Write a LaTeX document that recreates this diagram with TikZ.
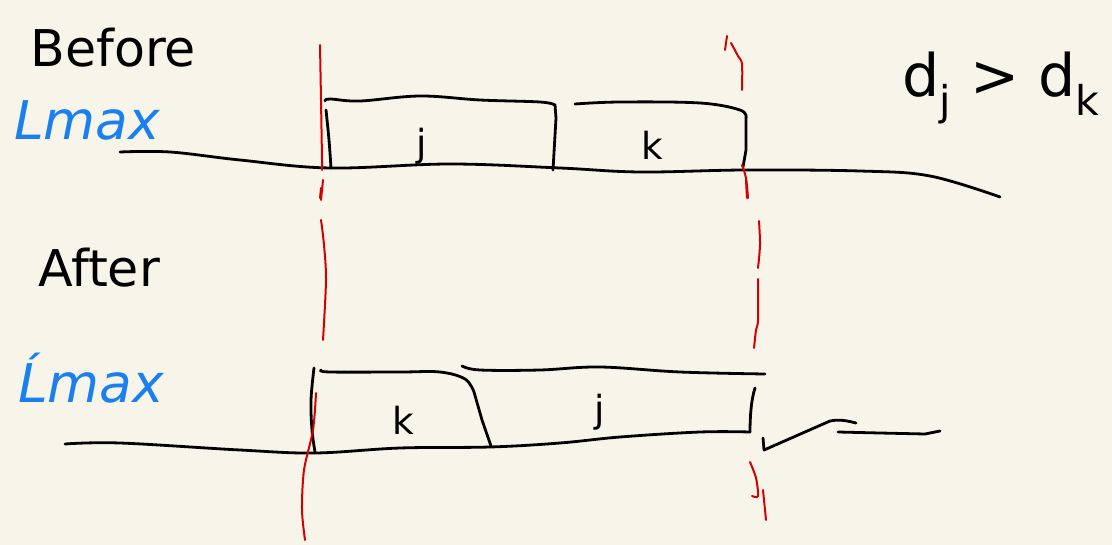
\documentclass[tikz,border=0pt]{standalone}
\usepackage{fontspec}
\setmainfont{DejaVu Sans}
\definecolor{paper}{HTML}{F7F5EA}
\definecolor{inkblue}{HTML}{1A80F0}
\definecolor{inkred}{HTML}{D40000}
\begin{document}
\begin{tikzpicture}[x=0.75pt,y=-0.75pt,
  ink/.style={line width=2.1pt,line cap=round,line join=round,black},
  redink/.style={line width=1.5pt,line cap=round,inkred},
  hand/.style={font=\fontsize{38}{40}\selectfont,inner sep=0pt},
  blueword/.style={hand,text=inkblue,font=\fontsize{40}{42}\selectfont\itshape},
  small/.style={font=\fontsize{28}{30}\selectfont,inner sep=0pt}]
\fill[paper] (0,0) rectangle (1112,545);
\useasboundingbox (0,0) rectangle (1112,545);

% labels
\node[hand,anchor=west] (before) at (30,48) {Before};
\node[blueword,anchor=west] (lmax) at (14,120) {Lmax};
\node[hand,anchor=west] (after) at (38,268) {After};
\node[blueword,anchor=west] (lmaxp) at (18,378) {Ĺmax};
\node[hand,anchor=west,font=\fontsize{44}{46}\selectfont] (cond) at (902,88) {d\textsubscript{j} > d\textsubscript{k}};

% ---------- Before ----------
\draw[ink] plot[smooth,tension=0.6] coordinates {(120,152) (170,152) (240,160) (330,168) (450,164) (560,168) (640,172) (745,170) (860,171) (930,176) (1000,197)};
% box j
\draw[ink] plot[smooth,tension=0.6] coordinates {(326,110) (329,140) (331,168)};
\draw[ink] plot[smooth,tension=0.6] coordinates {(325,101) (330,99) (360,101) (420,96) (480,100) (540,102) (555,105)} -- (556,118) -- (553,170);
\node[small] (jtop) at (422,146) {j};
% box k
\draw[ink] plot[smooth,tension=0.6] coordinates {(575,104) (620,102) (700,103) (740,110) (746,118)} -- (746,150) -- (743,167);
\node[small] (ktop) at (652,145) {k};

% ---------- After ----------
\draw[ink] plot[smooth,tension=0.6] coordinates {(65,444) (120,443) (240,450) (315,453) (400,448) (490,447) (560,443) (620,437) (700,432) (750,432)};
% box k
\draw[ink] plot[smooth,tension=0.6] coordinates {(314,368) (311,400) (312,430) (315,452)};
\draw[ink] plot[smooth,tension=0.6] coordinates {(321,370) (330,372) (400,372) (440,372) (465,379) (474,392)} -- (482,420) -- (491,446);
\node[small] (kbot) at (403,420) {k};
% box j
\draw[ink] plot[smooth,tension=0.6] coordinates {(462,366) (480,370) (540,370) (600,367) (680,372) (765,374)};
\draw[ink] (755,388) .. controls (751,400) and (750,418) .. (750,432);
\node[small] (jbot) at (600,412) {j};
% squiggle and tail
\draw[ink] (763,438) -- (764,450) -- (830,421) .. controls (840,419) and (848,421) .. (856,423);
\draw[ink] (838,432) -- (880,433) -- (925,434) -- (940,431);

% ---------- red guides ----------
\draw[redink] plot[smooth,tension=0.5] coordinates {(320,45) (321,100) (322,160) (322,170)};
\draw[redink] (321,188) -- (320,198);
\draw[redink] (323,180) -- (321,200);
\draw[redink] plot[smooth] coordinates {(321,220) (324,245) (326,280) (323,340)};
\draw[redink] plot[smooth] coordinates {(316,393) (313,430) (304,470) (302,510) (305,540)};

\draw[redink] (727,36) -- (725,50);
\draw[redink] plot[smooth] coordinates {(731,43) (738,56) (742,64) (742,90)};
\draw[redink] plot[smooth] coordinates {(742,165) (746,178) (748,198)};
\draw[redink] (746,180) -- (747,198);
\draw[redink] plot[smooth] coordinates {(759,221) (760,245) (758,268)};
\draw[redink] plot[smooth] coordinates {(758,279) (758,320) (756,330) (754,348)};
\draw[redink] plot[smooth] coordinates {(750,462) (756,478) (758,496) (752,496)};
\draw[redink] (763,490) -- (766,520);
\end{tikzpicture}
\end{document}
